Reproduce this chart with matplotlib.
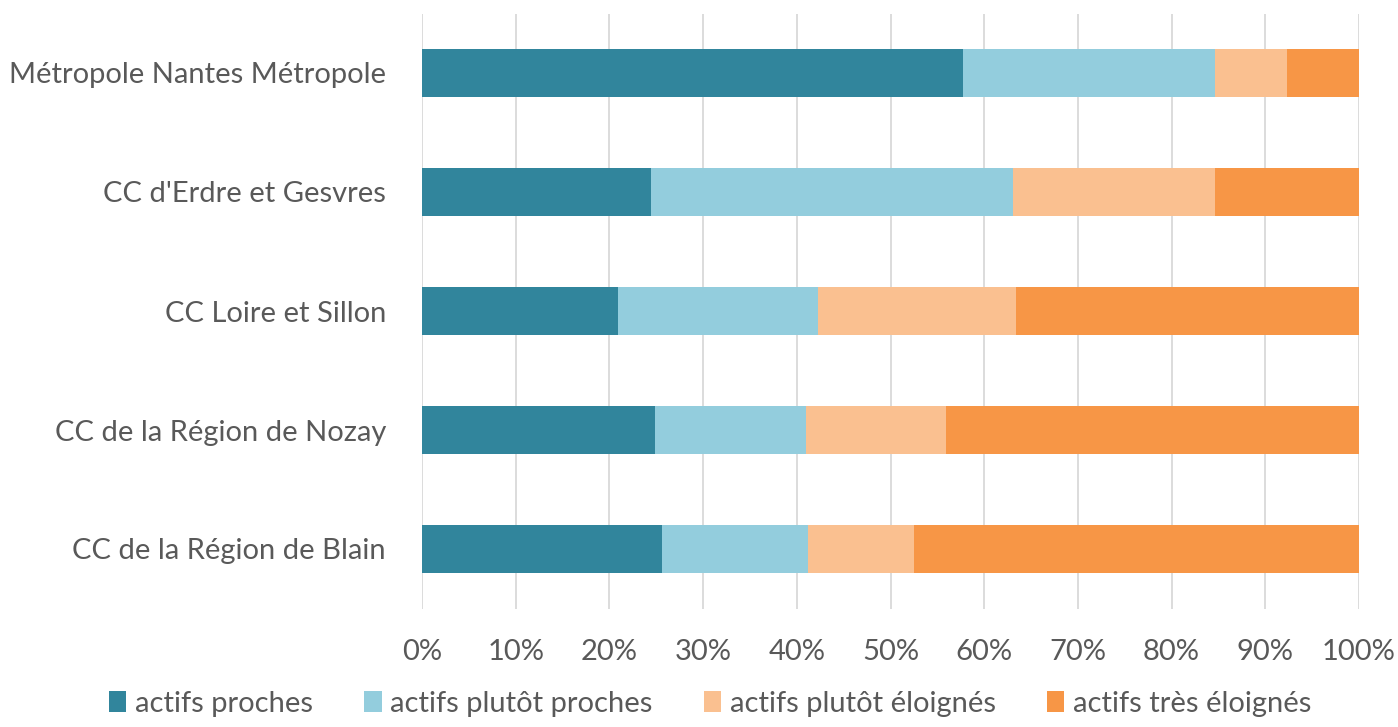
import numpy as np
import matplotlib.pyplot as plt

plt.rcParams['font.family'] = ['Lato', 'DejaVu Sans']

territoires = ["Métropole Nantes Métropole", "CC d'Erdre et Gesvres", "CC Loire et Sillon",
               "CC de la Région de Nozay", "CC de la Région de Blain"]
proches = [57.7, 24.4, 20.9, 24.9, 25.6]
plutot_proches = [26.9, 38.7, 21.4, 16.1, 15.6]
plutot_eloignes = [7.7, 21.5, 21.1, 14.9, 11.3]
tres_eloignes = [7.7, 15.4, 36.6, 44.1, 47.5]

series = [proches, plutot_proches, plutot_eloignes, tres_eloignes]
noms = ["actifs proches", "actifs plutôt proches", "actifs plutôt éloignés", "actifs très éloignés"]
couleurs = ["#31859c", "#93cddd", "#fac090", "#f79646"]

fig = plt.figure(figsize=(13.98, 7.27), dpi=100)
ax = fig.add_axes([422 / 1398, 1 - 608.5 / 727, 937 / 1398, 595 / 727])

y = np.arange(len(territoires))
left = np.zeros(len(territoires))
for vals, nom, c in zip(series, noms, couleurs):
    ax.barh(y, vals, left=left, height=0.4, color=c, label=nom)
    left = left + np.array(vals)

ax.set_ylim(4.5, -0.5)
ax.set_xlim(0, 100)
ax.set_xticks(np.arange(0, 101, 10))
ax.set_xticklabels([f"{v}%" for v in range(0, 101, 10)])
ax.set_yticks(y)
ax.set_yticklabels(territoires)
ax.tick_params(axis='both', length=0, labelsize=21, colors='#595959')
ax.tick_params(axis='x', pad=22)
ax.tick_params(axis='y', pad=26)
ax.grid(axis='x', color='#d9d9d9', linewidth=1.3)
ax.set_axisbelow(True)
for s in ax.spines.values():
    s.set_visible(False)

fig.legend(loc='lower center', ncol=4, frameon=False, fontsize=21, bbox_to_anchor=(0.508, -0.022),
           handlelength=0.6, handleheight=0.7, handletextpad=0.3, columnspacing=1.75, labelcolor='#595959')

fig.savefig("out.png", dpi=100)
